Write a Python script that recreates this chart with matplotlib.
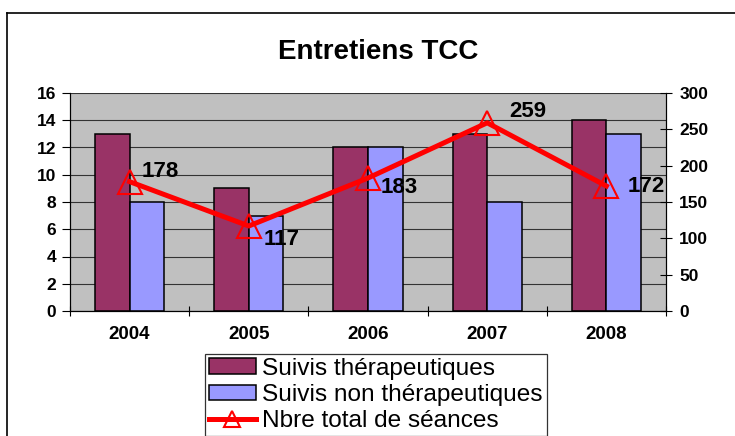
import matplotlib.pyplot as plt
from matplotlib.lines import Line2D
import numpy as np

plt.rcParams['font.family'] = ['Liberation Sans', 'DejaVu Sans']

years = ['2004', '2005', '2006', '2007', '2008']
suivis_ther = [13, 9, 12, 13, 14]
suivis_non_ther = [8, 7, 12, 8, 13]
total_seances = [178, 117, 183, 259, 172]

# label offsets in points (dx, dy), like the Excel placement
label_off = [(9, 7), (11, -10), (9, -7), (16, 8), (15, 0)]

x = np.arange(len(years))
w = 0.29

fig = plt.figure(figsize=(7.35, 4.36), dpi=100)
ax = fig.add_axes([70/735, 1 - 311/436, (666 - 70)/735, (311 - 93)/436])
ax.set_facecolor('#C0C0C0')

ax.bar(x - w/2, suivis_ther, w, color='#993366', edgecolor='black', linewidth=1.1,
       label='Suivis thérapeutiques', zorder=2)
ax.bar(x + w/2, suivis_non_ther, w, color='#9999FF', edgecolor='black', linewidth=1.1,
       label='Suivis non thérapeutiques', zorder=2)

ax.set_xlim(-0.5, len(years) - 0.5)
ax.set_ylim(0, 16)
ax.set_yticks(range(0, 17, 2))
ax.grid(axis='y', color='#333333', linewidth=0.8, zorder=0)
ax.set_axisbelow(True)
ax.set_xticks(x)
ax.set_xticklabels(years, fontweight='bold', fontsize=13.5)
ax.set_xticks(np.arange(-0.5, len(years)), minor=True)
ax.tick_params(axis='x', which='major', length=0, pad=11)
ax.tick_params(axis='x', which='minor', direction='inout', length=7, width=0.8)
ax.tick_params(axis='y', direction='out', length=6, width=0.8, pad=4, labelsize=12.5)
for t in ax.get_yticklabels():
    t.set_fontweight('bold')
ax.spines['top'].set_visible(False)

ax2 = ax.twinx()
ax2.plot(x, total_seances, color='red', linewidth=3.6, marker='^', markersize=17,
         markerfacecolor='none', markeredgecolor='red', markeredgewidth=1.5,
         label='Nbre total de séances', zorder=3)
ax2.set_ylim(0, 300)
ax2.set_yticks(range(0, 301, 50))
ax2.tick_params(axis='y', direction='inout', length=9, width=0.8, pad=5, labelsize=12.5)
for t in ax2.get_yticklabels():
    t.set_fontweight('bold')
ax2.spines['top'].set_visible(False)

for xi, v, (dx, dy) in zip(x, total_seances, label_off):
    ax2.annotate(str(v), (xi, v), xytext=(dx, dy), textcoords='offset points',
                 ha='left', va='center', fontsize=16, fontweight='bold', zorder=4)

fig.text(378/735, 1 - 52/436, 'Entretiens TCC', ha='center', va='center',
         fontsize=20, fontweight='bold')

h1, l1 = ax.get_legend_handles_labels()
h2, l2 = ax2.get_legend_handles_labels()
leg = fig.legend(h1 + h2, l1 + l2, loc='upper left',
                 bbox_to_anchor=(205/735, 1 - 354/436),
                 fontsize=17.6, frameon=True, fancybox=False,
                 edgecolor='black', borderpad=0.15, labelspacing=0.18,
                 handlelength=1.95, handleheight=0.6, handletextpad=0.25,
                 markerscale=0.7, borderaxespad=0)
leg.get_frame().set_linewidth(0.9)

# outer chart border (left and top visible)
fig.add_artist(Line2D([7/735, 7/735], [0, 1 - 13/436], color='black', linewidth=1.2,
                      transform=fig.transFigure))
fig.add_artist(Line2D([7/735, 1], [1 - 13/436, 1 - 13/436], color='black', linewidth=1.2,
                      transform=fig.transFigure))

fig.savefig('out.png', dpi=100)
